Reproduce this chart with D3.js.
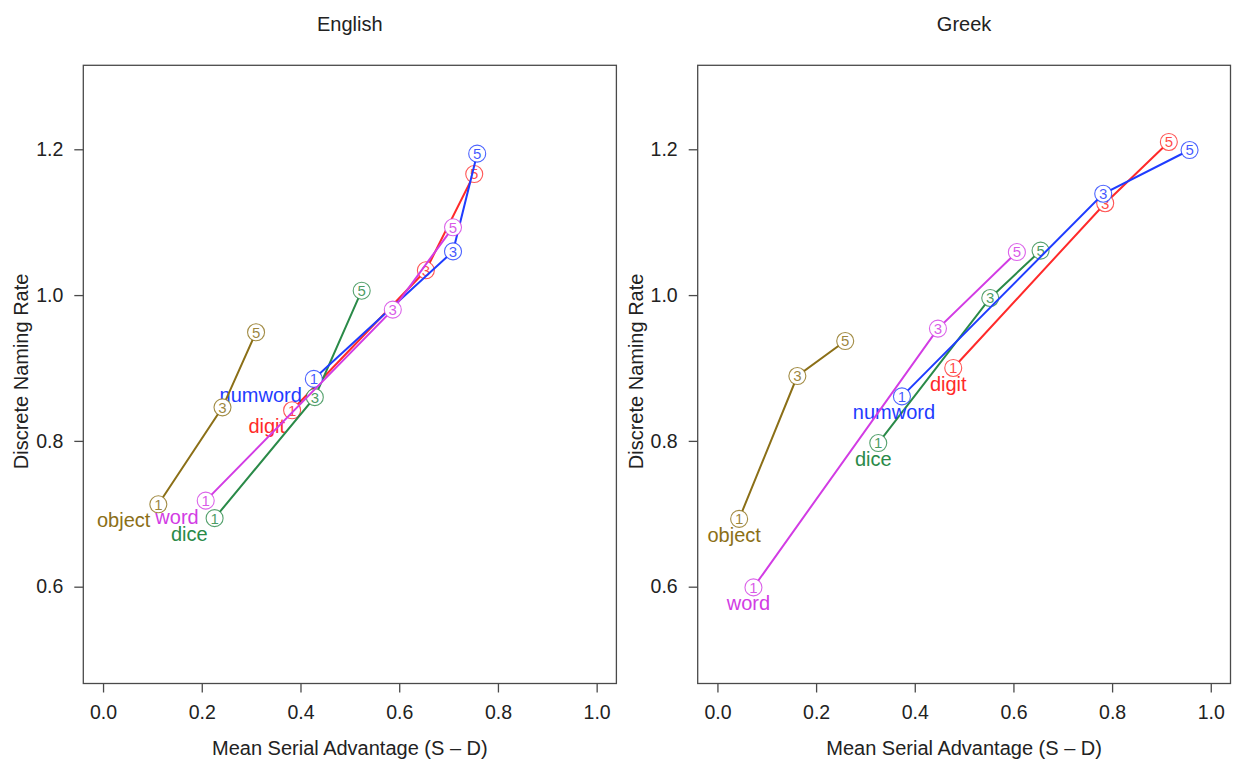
<!DOCTYPE html>
<html>
<head>
<meta charset="utf-8">
<script src="https://cdn.jsdelivr.net/npm/d3@7"></script>
<style>
  html, body { margin: 0; padding: 0; background: #fff; }
  svg { display: block; font-family: "Liberation Sans", Arial, Helvetica, sans-serif; }
</style>
</head>
<body>
<svg id="chart" width="1239" height="766"></svg>
<script>
// ---------------- DATA ----------------
const seriesNames = ["digit", "dice", "numword", "word", "object"];
const setSizes = ["1", "3", "5"];
const xTickValues = [0, 0.2, 0.4, 0.6, 0.8, 1.0];
const yTickValues = [0.6, 0.8, 1.0, 1.2];
const panelTitles = ["English", "Greek"];

// English panel (x = mean serial advantage, y = discrete naming rate)
const engDigitX   = [0.383, 0.654, 0.752];
const engDigitY   = [0.842, 1.034, 1.166];
const engNumwordX = [0.427, 0.709, 0.758];
const engNumwordY = [0.885, 1.060, 1.194];
const engDiceX    = [0.226, 0.429, 0.524];
const engDiceY    = [0.694, 0.860, 1.006];
const engWordX    = [0.208, 0.587, 0.709];
const engWordY    = [0.718, 0.980, 1.093];
const engObjectX  = [0.112, 0.242, 0.310];
const engObjectY  = [0.713, 0.846, 0.949];

// Greek panel
const grDigitX   = [0.478, 0.786, 0.915];
const grDigitY   = [0.900, 1.126, 1.210];
const grNumwordX = [0.374, 0.782, 0.957];
const grNumwordY = [0.861, 1.139, 1.199];
const grDiceX    = [0.326, 0.553, 0.655];
const grDiceY    = [0.797, 0.996, 1.061];
const grWordX    = [0.073, 0.447, 0.607];
const grWordY    = [0.599, 0.954, 1.059];
const grObjectX  = [0.044, 0.162, 0.259];
const grObjectY  = [0.693, 0.889, 0.937];

// ---------------- STYLE ----------------
const colors = {
  digit: "#ff2a2a",
  numword: "#1f3cff",
  dice: "#2a8a48",
  word: "#d23ce4",
  object: "#8b6f17"
};

const panels = [
  {
    title: panelTitles[0],
    data: {
      digit:   [engDigitX, engDigitY],
      numword: [engNumwordX, engNumwordY],
      dice:    [engDiceX, engDiceY],
      word:    [engWordX, engWordY],
      object:  [engObjectX, engObjectY]
    },
    left: 83.3, right: 616.4,
    labelAnchor: "end", labelDx: -7, labelDy: 16,
    labelNudge: { numword: -5, dice: 0, digit: 0, word: 0, object: -1 }
  },
  {
    title: panelTitles[1],
    data: {
      digit:   [grDigitX, grDigitY],
      numword: [grNumwordX, grNumwordY],
      dice:    [grDiceX, grDiceY],
      word:    [grWordX, grWordY],
      object:  [grObjectX, grObjectY]
    },
    left: 697.7, right: 1230.5,
    labelAnchor: "middle", labelDx: -5, labelDy: 16,
    labelNudge: { numword: -3, dice: 0, digit: 0, word: 0, object: 0 }
  }
];

const boxTop = 65.3, boxBottom = 683.5;
const xDomain = [-0.04, 1.04];
const yDomain = [0.4672, 1.3152];
const fontSize = 20;
const tickFontSize = 19.5;

const svg = d3.select("#chart");

panels.forEach(p => {
  const x = d3.scaleLinear().domain(xDomain).range([p.left, p.right]);
  const y = d3.scaleLinear().domain(yDomain).range([boxBottom, boxTop]);
  const g = svg.append("g");

  // box
  g.append("rect")
    .attr("x", p.left).attr("y", boxTop)
    .attr("width", p.right - p.left).attr("height", boxBottom - boxTop)
    .attr("fill", "none").attr("stroke", "#4a4a4a").attr("stroke-width", 1.3);

  // x axis
  const xAxis = g.append("g")
    .attr("transform", `translate(0,${boxBottom})`)
    .call(d3.axisBottom(x).tickValues(xTickValues).tickFormat(d3.format(".1f"))
      .tickSize(9).tickPadding(13));
  xAxis.select(".domain").remove();
  xAxis.selectAll("line").attr("stroke", "#4a4a4a").attr("stroke-width", 1.3);
  xAxis.selectAll("text").attr("font-size", tickFontSize).attr("fill", "#222")
    .attr("font-family", "Liberation Sans, Arial, sans-serif");

  // y axis
  const yAxis = g.append("g")
    .attr("transform", `translate(${p.left},0)`)
    .call(d3.axisLeft(y).tickValues(yTickValues).tickFormat(d3.format(".1f"))
      .tickSize(9).tickPadding(11));
  yAxis.select(".domain").remove();
  yAxis.selectAll("line").attr("stroke", "#4a4a4a").attr("stroke-width", 1.3);
  yAxis.selectAll("text").attr("font-size", tickFontSize).attr("fill", "#222")
    .attr("font-family", "Liberation Sans, Arial, sans-serif");

  // titles
  const cx = (p.left + p.right) / 2;
  g.append("text").attr("x", cx).attr("y", 31)
    .attr("text-anchor", "middle").attr("font-size", fontSize).attr("fill", "#222")
    .text(p.title);
  g.append("text").attr("x", cx).attr("y", 755)
    .attr("text-anchor", "middle").attr("font-size", fontSize).attr("fill", "#222")
    .text("Mean Serial Advantage (S \u2013 D)");
  const cy = (boxTop + boxBottom) / 2 - 3;
  g.append("text")
    .attr("transform", `translate(${p.left - 62},${cy}) rotate(-90)`)
    .attr("text-anchor", "middle").attr("font-size", fontSize).attr("fill", "#222")
    .attr("dy", "0.35em")
    .text("Discrete Naming Rate");

  // series
  const line = d3.line().x(d => x(d.x)).y(d => y(d.y));
  seriesNames.forEach(name => {
    const [xs, ys] = p.data[name];
    const pts = setSizes.map((s, i) => ({ x: xs[i], y: ys[i], label: s }));
    const col = colors[name];
    const sg = g.append("g");
    sg.append("path").datum(pts).attr("d", line)
      .attr("fill", "none").attr("stroke", col).attr("stroke-width", 2);
    const m = sg.selectAll("g.pt").data(pts).enter().append("g")
      .attr("transform", d => `translate(${x(d.x)},${y(d.y)})`);
    m.append("circle").attr("r", 8.5).attr("fill", "#fff")
      .attr("stroke", col).attr("stroke-width", 1.1).attr("stroke-opacity", 0.8);
    m.append("text").attr("text-anchor", "middle").attr("dy", "0.36em")
      .attr("font-size", 15).attr("fill", col).attr("fill-opacity", 0.85)
      .text(d => d.label);
    // series label near first point
    sg.append("text")
      .attr("x", x(pts[0].x) + p.labelDx + (p.labelNudge[name] || 0))
      .attr("y", y(pts[0].y) + p.labelDy)
      .attr("dy", "0.35em")
      .attr("text-anchor", p.labelAnchor)
      .attr("font-size", fontSize).attr("fill", col)
      .text(name);
  });
});
</script>
</body>
</html>
